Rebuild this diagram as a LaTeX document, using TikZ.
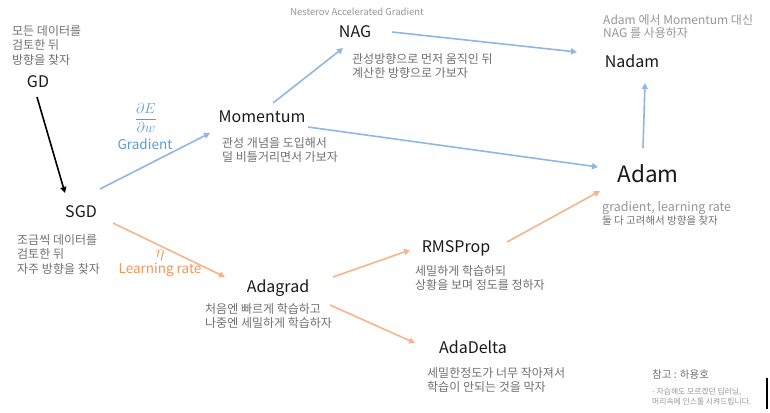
\documentclass[tikz,border=0pt]{standalone}
\usepackage{fontspec}
\setmainfont{Noto Sans CJK KR}
\usetikzlibrary{arrows.meta,calc}
\definecolor{arrowblue}{RGB}{143,183,226}
\definecolor{arroworange}{RGB}{245,180,140}
\definecolor{textblue}{RGB}{91,155,213}
\definecolor{textorange}{RGB}{242,150,90}
\definecolor{descgray}{RGB}{112,112,112}
\definecolor{notegray}{RGB}{150,150,150}
\definecolor{titleblack}{RGB}{25,25,25}
\tikzset{
	algo/.style={anchor=center, inner sep=0pt, text height=11pt, text depth=0pt, text=titleblack, font=\fontsize{16}{18}\selectfont},
	desc/.style={anchor=north west, align=left, inner sep=0pt, text=descgray, font=\fontsize{12}{14.5}\selectfont},
	wire/.style={line width=1.6pt, -{Triangle[length=6pt,width=6pt]}},
	bluewire/.style={wire, draw=arrowblue},
	orangewire/.style={wire, draw=arroworange},
}
\begin{document}
\begin{tikzpicture}[x=1pt, y=-1pt]
	\useasboundingbox (0,0) rectangle (770,412);
	% Paths, nodes and wires:
	\node[algo] (gd) at (38,82) {GD};
	\node[desc] (gdtext) at (12,25) {모든 데이터를\\검토한 뒤\\방향을 찾자};
	\node[algo] (sgd) at (81,212) {SGD};
	\node[desc] (sgdtext) at (17,234) {조금씩 데이터를\\검토한 뒤\\자주 방향을 찾자};
	\node[algo] (momentum) at (262,117) {Momentum};
	\node[desc] (momentumtext) at (222,137) {관성 개념을 도입해서\\덜 비틀거리면서 가보자};
	\node[algo] (nag) at (355,32) {NAG};
	\node[anchor=center, inner sep=0pt, text=notegray, font=\fontsize{9.5}{10}\selectfont] (nagname) at (357,12) {Nesterov Accelerated Gradient};
	\node[desc] (nagtext) at (352,53) {관성방향으로 먼저 움직인 뒤\\계산한 방향으로 가보자};
	\node[algo] (nadam) at (632,62) {Nadam};
	\node[desc, text=notegray, font=\fontsize{12}{13.5}\selectfont] (nadamtext) at (603,14) {Adam 에서 Momentum 대신\\NAG 를 사용하자};
	\node[algo, text height=15pt, font=\fontsize{22.5}{25}\selectfont] (adam) at (648,175) {Adam};
	\node[desc, font=\fontsize{10.5}{13.5}\selectfont] (adamtext) at (602,201) {{\color{notegray}\fontsize{12.5}{13.5}\selectfont gradient, learning rate}\\둘 다 고려해서 방향을 찾자};
	\node[algo] (adagrad) at (278,287) {Adagrad};
	\node[desc] (adagradtext) at (205,303) {처음엔 빠르게 학습하고\\나중엔 세밀하게 학습하자};
	\node[algo] (rmsprop) at (456,247) {RMSProp};
	\node[desc] (rmsproptext) at (415,265) {세밀하게 학습하되\\상황을 보며 정도를 정하자};
	\node[algo] (adadelta) at (473,348) {AdaDelta};
	\node[desc] (adadeltatext) at (427,367) {세밀한정도가 너무 작아져서\\학습이 안되는 것을 막자};
	\node[inner sep=0pt, text=textblue, font=\fontsize{14}{14}\selectfont] (dEdw) at (146,118) {$\displaystyle\frac{\partial E}{\partial w}$};
	\node[inner sep=0pt, text=textblue, font=\fontsize{13.5}{14}\selectfont] (gradient) at (145,144) {Gradient};
	\node[inner sep=0pt, text=textorange, font=\fontsize{16}{16}\selectfont] (eta) at (160,255) {$\eta$};
	\node[inner sep=0pt, text=textorange, font=\fontsize{13.5}{14}\selectfont] (lrate) at (160,270) {Learning rate};
	\node[anchor=west, inner sep=0pt, text=descgray, font=\fontsize{10.5}{12}\selectfont] (ref) at (652,375) {참고 : 하용호};
	\node[desc, text=notegray, font=\fontsize{7.8}{10}\selectfont] (reftext) at (652,388) {- 자습해도 모르겠던 딥러닝,\\머리속에 인스톨 시켜드립니다.};
	\draw[wire, draw=black] ($(gd)+(-1,15)$) -- ($(sgd)+(-16,-19)$);
	\draw[bluewire] ($(sgd)+(19,-23)$) -- ($(momentum)+(-52,16)$);
	\draw[bluewire] ($(momentum)+(11,-14)$) -- ($(nag)+(-12,16)$);
	\draw[bluewire] ($(nag)+(37,0)$) -- ($(nadam)+(-55,-10)$);
	\draw[bluewire] ($(momentum)+(46,10)$) -- ($(adam)+(-50,-8)$);
	\draw[bluewire] ($(adam)+(-5,-27)$) -- ($(nadam)+(13,21)$);
	\draw[orangewire] ($(sgd)+(32,11)$) -- ($(adagrad)+(-53,-10)$);
	\draw[orangewire] ($(adagrad)+(55,-10)$) -- ($(rmsprop)+(-46,3)$);
	\draw[orangewire] ($(adagrad)+(52,18)$) -- ($(adadelta)+(-58,-5)$);
	\draw[orangewire] ($(rmsprop)+(51,-5)$) -- ($(adam)+(-48,16)$);
	\draw[line width=1.2pt] (767,378) -- (767,409);
\end{tikzpicture}
\end{document}
